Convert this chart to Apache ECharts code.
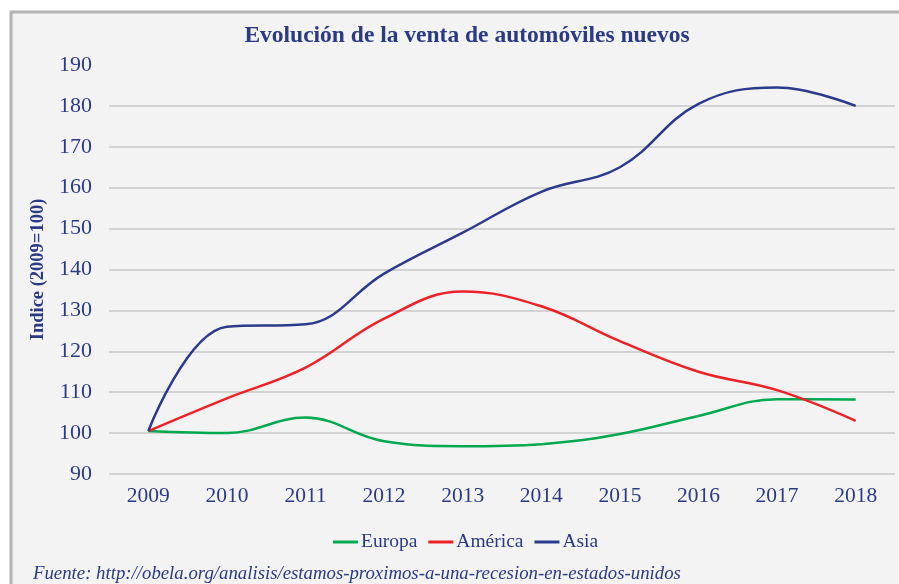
<!DOCTYPE html>
<html>
<head>
<meta charset="utf-8">
<script src="https://cdn.jsdelivr.net/npm/echarts@6/dist/echarts.min.js"></script>
<style>
  html, body { margin: 0; padding: 0; background: #fff; }
  #chart { width: 899px; height: 584px; }
</style>
</head>
<body>
<div id="chart"></div>
<script>
var years = ['2009', '2010', '2011', '2012', '2013', '2014', '2015', '2016', '2017', '2018'];
var europa = [100.5, 100, 103.8, 98, 96.8, 97.3, 99.8, 104.2, 108.3, 108.2];
var america = [100.5, 108.5, 116, 128, 134.6, 131, 122.5, 115, 110.5, 103];
var asia = [100.5, 126, 126.6, 139, 149, 159, 165, 180.5, 184.5, 180];

var navy = '#2b3a85';
var serif = '"Liberation Serif", "DejaVu Serif", serif';

var chart = echarts.init(document.getElementById('chart'));

var option = {
  backgroundColor: '#fff',
  animation: false,
  graphic: [
    {
      type: 'rect',
      z: -10,
      shape: { x: 11, y: 12, width: 900, height: 600 },
      style: { fill: '#f3f3f3', stroke: '#b4b4b4', lineWidth: 3 }
    },
    {
      type: 'text',
      left: 33,
      top: 565,
      style: {
        text: 'Fuente: http://obela.org/analisis/estamos-proximos-a-una-recesion-en-estados-unidos',
        font: 'italic 18.8px ' + serif,
        fill: navy
      }
    }
  ],
  title: {
    text: 'Evolución de la venta de automóviles nuevos',
    left: 462,
    textAlign: 'center',
    top: 19,
    textStyle: { color: navy, fontFamily: serif, fontWeight: 'bold', fontSize: 23.5 }
  },
  legend: {
    left: 328,
    top: 527,
    itemWidth: 25,
    itemHeight: 3,
    itemGap: 11,
    icon: 'rect',
    textStyle: { color: navy, fontFamily: serif, fontSize: 19.5, padding: [0, 0, 0, -2] },
    data: ['Europa', 'América', 'Asia']
  },
  grid: { left: 109, right: 4, top: 65, bottom: 110 },
  xAxis: {
    type: 'category',
    data: years,
    boundaryGap: true,
    axisLine: { show: false },
    axisTick: { show: false },
    axisLabel: { color: navy, fontFamily: serif, fontSize: 21.5, margin: 11 }
  },
  yAxis: {
    type: 'value',
    min: 90,
    max: 190,
    interval: 10,
    name: 'Indice (2009=100)',
    nameLocation: 'middle',
    nameGap: 59,
    nameTextStyle: { color: navy, fontFamily: serif, fontWeight: 'bold', fontSize: 18.5 },
    axisLine: { show: false },
    axisTick: { show: false },
    axisLabel: { color: navy, fontFamily: serif, fontSize: 22, margin: 17 },
    splitLine: { showMaxLine: false, lineStyle: { color: '#c8c8c8', width: 1.5 } }
  },
  series: [
    {
      name: 'Europa', type: 'line', data: europa, smooth: 0.4, symbol: 'none',
      itemStyle: { color: '#00a84f' }, lineStyle: { color: '#00a84f', width: 2.5 }
    },
    {
      name: 'América', type: 'line', data: america, smooth: 0.4, symbol: 'none',
      itemStyle: { color: '#ee2127' }, lineStyle: { color: '#ee2127', width: 2.5 }
    },
    {
      name: 'Asia', type: 'line', data: asia, smooth: 0.4, symbol: 'none',
      itemStyle: { color: '#2b3a8c' }, lineStyle: { color: '#2b3a8c', width: 2.5 }
    }
  ]
};

chart.setOption(option);
</script>
</body>
</html>
